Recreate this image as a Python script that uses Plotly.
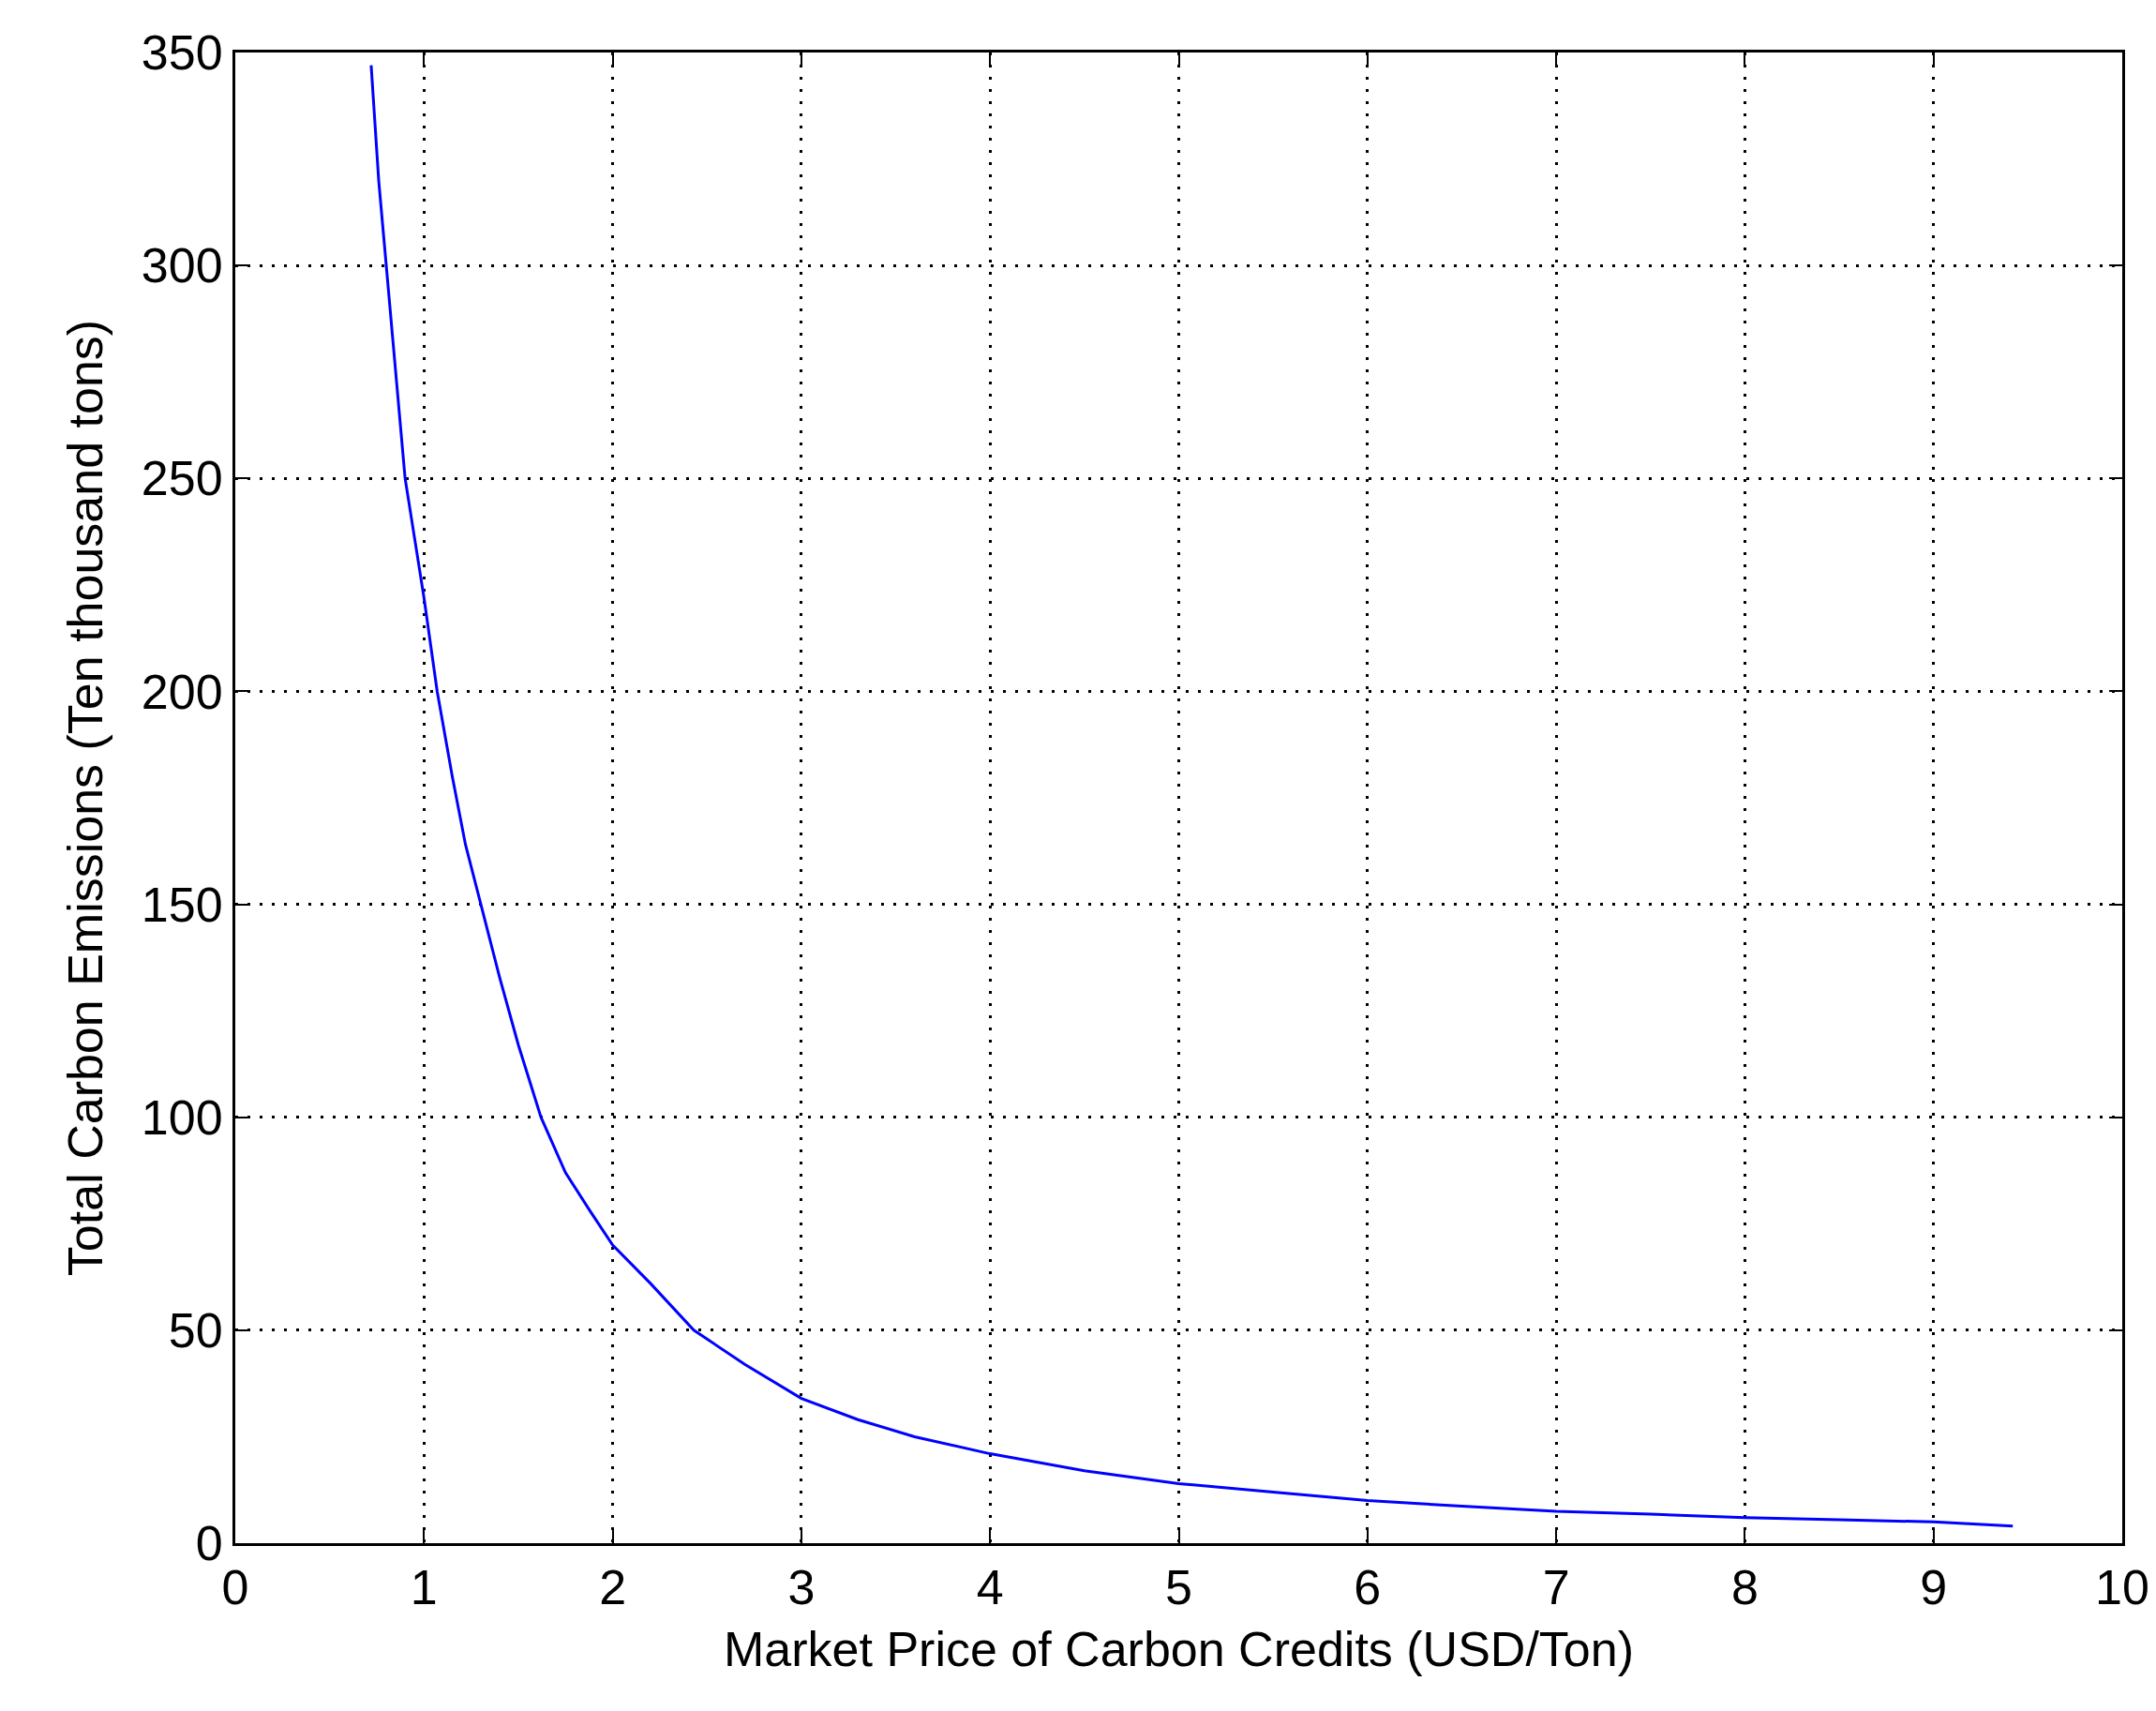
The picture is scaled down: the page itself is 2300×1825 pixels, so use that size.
import plotly.graph_objects as go

price = [0.72, 0.76, 0.80, 0.85, 0.90, 0.95, 1.00, 1.07, 1.15, 1.22, 1.30, 1.40, 1.50, 1.62, 1.75, 1.88, 2.00, 2.20, 2.43, 2.70, 3.00, 3.30, 3.60, 4.00, 4.50, 5.00, 5.50, 6.00, 6.50, 7.00, 7.50, 8.00, 8.50, 9.00, 9.42]
emissions = [347, 320, 300, 275, 250, 236, 222, 200, 180, 164, 150, 133, 117, 100, 87, 78, 70, 61, 50, 42, 34, 29, 25, 21, 17, 14, 12, 10, 8.7, 7.5, 6.8, 6.0, 5.5, 5.0, 4.0]

fig = go.Figure(go.Scatter(x=price, y=emissions, mode="lines",
                           line=dict(color="#0000ff", width=3)))
ax = dict(showline=True, linecolor="black", linewidth=3, mirror="ticks",
          ticks="inside", ticklen=14, tickwidth=2, tickcolor="black",
          showgrid=True, gridcolor="black", griddash="3px,10px", gridwidth=3,
          zeroline=False, tickfont=dict(size=52, color="black"),
          title_font=dict(size=52, color="black"))
fig.update_xaxes(**ax, range=[0, 10], dtick=1,
                 title_text="Market Price of Carbon Credits (USD/Ton)", title_standoff=20)
fig.update_yaxes(**ax, range=[0, 350], dtick=50,
                 title_text="Total Carbon Emissions (Ten thousand tons)", title_standoff=25)
fig.update_layout(width=2300, height=1825, paper_bgcolor="white", plot_bgcolor="white",
                  font=dict(family="Liberation Sans, Arial, sans-serif"),
                  margin=dict(l=243, r=44, t=48, b=187), showlegend=False)
fig.write_html("out.html")
